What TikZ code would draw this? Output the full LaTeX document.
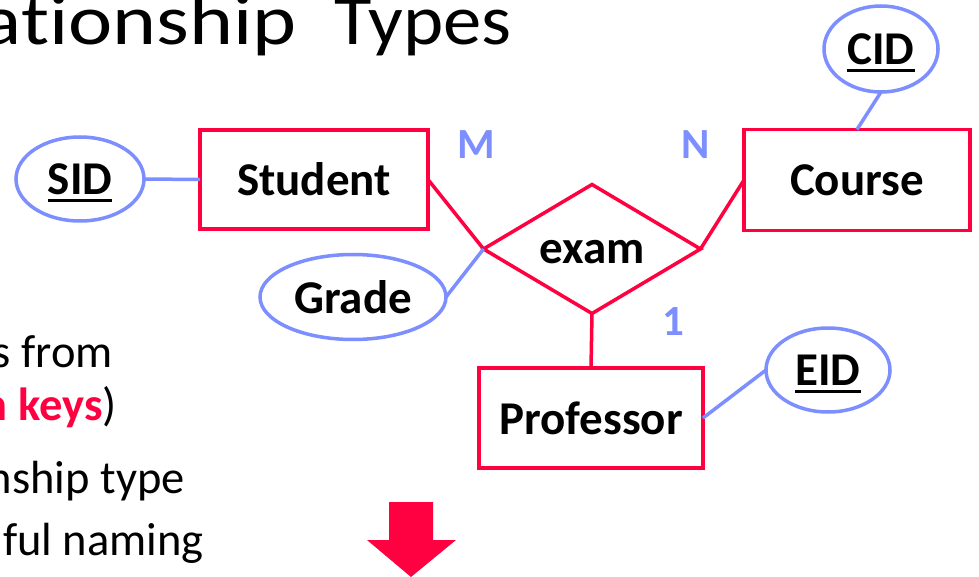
\documentclass[tikz,border=0pt]{standalone}
\usepackage{graphicx}
\usepackage{fontspec}
\setmainfont{Carlito}[Ligatures=NoCommon]
\usetikzlibrary{shapes.geometric}
\definecolor{erred}{RGB}{255,0,64}
\definecolor{erblue}{RGB}{125,142,255}
\newcommand{\ulword}[1]{\setbox0\hbox{#1}\rlap{\smash{\rule[-8pt]{\wd0}{3pt}}}\box0}
\tikzset{
  entity/.style={draw=erred, line width=3.5pt, rectangle, minimum width=226pt, minimum height=100pt,
    inner sep=0pt, outer sep=0pt, font=\fontsize{47}{56}\selectfont\bfseries},
  attr/.style={draw=erblue, line width=3.5pt, ellipse, inner sep=0pt, outer sep=0pt,
    font=\fontsize{47}{56}\selectfont\bfseries},
  rel/.style={draw=erred, line width=3.5pt, diamond, aspect=1.68, minimum width=217pt, minimum height=129pt,
    inner sep=0pt, outer sep=0pt, text height=30pt, text depth=0pt, font=\fontsize{47}{56}\selectfont\bfseries},
  card/.style={text=erblue, inner sep=0pt, font=\fontsize{43}{50}\selectfont\bfseries},
  body/.style={anchor=base east, inner sep=0pt, font=\fontsize{46.5}{55}\selectfont},
  redline/.style={draw=erred, line width=3.5pt},
  blueline/.style={draw=erblue, line width=3.5pt}
}
\begin{document}
\begin{tikzpicture}[x=1pt,y=-1pt]
\clip (0,0) rectangle (979,577);
\fill[white] (0,0) rectangle (979,577);
% title and body text (cut by the frame)
\node[anchor=base east, inner sep=0pt, font=\fontsize{71}{80}\selectfont] (title) at (512,45)
  {\scalebox{1.18}[1]{ationship}\hspace{38pt}\scalebox{1.08}[1]{Types}};
\node[body] (t1) at (113,367) {s from};
\node[body] (t2) at (117,420) {\textcolor{erred}{\bfseries n keys})};
\node[body] (t3) at (185,493) {nship type};
\node[body] (t4) at (204,555) {ful naming};
% entities
\node[entity, minimum width=228pt, minimum height=99pt] (stu) at (314,179.5) {Student};
\node[entity, minimum height=101pt] (crs) at (857,180) {Course};
\node[entity, minimum width=224pt] (prof) at (591,418) {Professor};
% relationship
\node[rel] (exam) at (592,249) {exam};
% attributes
\node[attr, minimum width=128pt, minimum height=84pt] (sid) at (80,179) {\ulword{SID}};
\node[attr, minimum width=186pt, minimum height=85pt] (grade) at (353,297) {Grade};
\node[attr, minimum width=114pt, minimum height=86pt] (cid) at (881,49) {\ulword{CID}};
\node[attr, minimum width=124pt, minimum height=84pt] (eid) at (828,370) {\ulword{EID}};
% cardinalities
\node[card] (m) at (476,145) {M};
\node[card] (n) at (696,145) {N};
\node[card] (one) at (673,322) {1};
% connectors
\draw[redline] (stu.east) -- (exam.west);
\draw[redline] (exam.east) -- (crs.west);
\draw[redline] (exam.south) -- (prof.north);
\draw[blueline] (sid.east) -- (stu.west);
\draw[blueline] (grade.east) -- (exam.west);
\draw[blueline] (cid.south) -- (crs.north);
\draw[blueline] (prof.east) -- (eid.west);
% block arrow
\fill[erred] (389,502) -- (433,502) -- (433,540) -- (456,540) -- (411,577) -- (367,540) -- (389,540) -- cycle;
\end{tikzpicture}
\end{document}
